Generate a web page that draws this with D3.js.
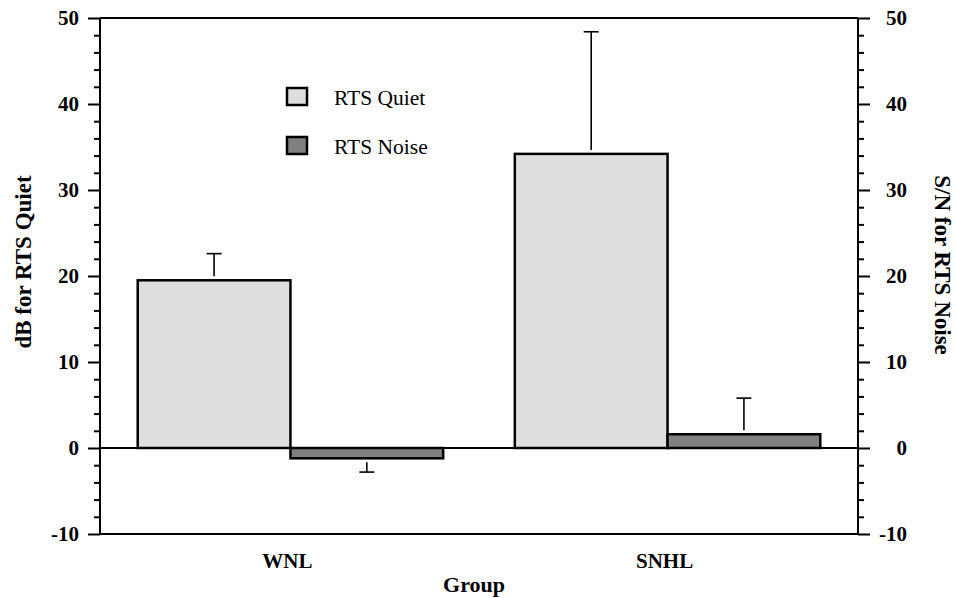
<!DOCTYPE html>
<html>
<head>
<meta charset="utf-8">
<script src="https://cdn.jsdelivr.net/npm/d3@7"></script>
<style>
body { margin: 0; background: #fff; }
text { font-family: "Liberation Serif", "Times New Roman", serif; }
</style>
</head>
<body>
<div class="chart"></div>
<script>
var groups = ["WNL", "SNHL"];
var series = ["RTS Quiet", "RTS Noise"];
var quietValues = [19.5, 34.2];
var quietErrors = [3.1, 14.2];
var noiseValues = [-1.2, 1.6];
var noiseErrors = [1.6, 4.2];
var yTicks = [-10, 0, 10, 20, 30, 40, 50];
var colors = ["#dedede", "#808080"];

var data = [];
groups.forEach(function(g, i){
	data.push({group: g, series: series[0], value: quietValues[i], err: quietErrors[i]});
	data.push({group: g, series: series[1], value: noiseValues[i], err: noiseErrors[i]});
});

var width = 956, height = 598;
var margin = {top: 18, right: 98, bottom: 64, left: 100};
var w = width - margin.left - margin.right;
var h = height - margin.top - margin.bottom;

var svg = d3.select(".chart").append("svg")
	.attr("width", width)
	.attr("height", height);

var g = svg.append("g").attr("transform", "translate(" + margin.left + "," + margin.top + ")");

var x = d3.scaleBand().domain(groups).range([0, w]).paddingInner(0.19).paddingOuter(0.1);
var xs = d3.scaleBand().domain(series).range([0, x.bandwidth()]);
var y = d3.scaleLinear().domain([-10, 50]).range([h, 0]);

// bars
g.selectAll("rect.bar").data(data).enter().append("rect")
	.attr("class", "bar")
	.attr("x", d => x(d.group) + xs(d.series))
	.attr("width", xs.bandwidth())
	.attr("y", d => y(Math.max(0, d.value)))
	.attr("height", d => Math.abs(y(d.value) - y(0)))
	.style("fill", d => colors[series.indexOf(d.series)])
	.style("stroke", "#000")
	.style("stroke-width", 2.5);

// error bars (one-sided)
var gap = 4;
var eb = g.selectAll("g.err").data(data).enter().append("g").attr("class", "err")
	.attr("transform", d => "translate(" + (x(d.group) + xs(d.series) + xs.bandwidth() / 2) + ",0)");
eb.append("line")
	.attr("y1", d => y(d.value) + (d.value >= 0 ? -gap : gap))
	.attr("y2", d => y(d.value >= 0 ? d.value + d.err : d.value - d.err))
	.style("stroke", "#000").style("stroke-width", 1.6);
eb.append("line")
	.attr("x1", -7.5).attr("x2", 7.5)
	.attr("y1", d => y(d.value >= 0 ? d.value + d.err : d.value - d.err))
	.attr("y2", d => y(d.value >= 0 ? d.value + d.err : d.value - d.err))
	.style("stroke", "#000").style("stroke-width", 1.6);

// zero line
g.append("line")
	.attr("x1", 0).attr("x2", w)
	.attr("y1", y(0)).attr("y2", y(0))
	.style("stroke", "#000").style("stroke-width", 2);

// frame top and bottom
g.append("line").attr("x1", 0).attr("x2", w).attr("y1", y(50)).attr("y2", y(50))
	.style("stroke", "#000").style("stroke-width", 2);
g.append("line").attr("x1", 0).attr("x2", w).attr("y1", y(-10)).attr("y2", y(-10))
	.style("stroke", "#000").style("stroke-width", 2);

// axes
var minor = d3.range(-10, 51, 2).filter(v => v % 10 != 0);
var fmt = d => String(d);

function styleAxis(sel) {
	sel.select(".domain").remove();
	sel.selectAll("line").style("stroke", "#000").style("stroke-width", 2);
	sel.selectAll("text")
		.style("font-size", "21px")
		.style("font-weight", "bold")
		.style("fill", "#000");
}

var yLeft = g.append("g").call(d3.axisLeft(y).tickValues(yTicks).tickSize(12).tickPadding(9).tickFormat(fmt));
styleAxis(yLeft);
var yLeftMinor = g.append("g").call(d3.axisLeft(y).tickValues(minor).tickSize(6).tickFormat(""));
styleAxis(yLeftMinor);
g.append("line").attr("x1", 0).attr("x2", 0).attr("y1", 0).attr("y2", h)
	.style("stroke", "#000").style("stroke-width", 2);

var yRight = g.append("g").attr("transform", "translate(" + w + ",0)")
	.call(d3.axisRight(y).tickValues(yTicks).tickSize(12).tickPadding(0).tickFormat(fmt));
styleAxis(yRight);
yRight.selectAll("text").attr("text-anchor", "end").attr("x", 49);
var yRightMinor = g.append("g").attr("transform", "translate(" + w + ",0)")
	.call(d3.axisRight(y).tickValues(minor).tickSize(6).tickFormat(""));
styleAxis(yRightMinor);
g.append("line").attr("x1", w).attr("x2", w).attr("y1", 0).attr("y2", h)
	.style("stroke", "#000").style("stroke-width", 2);

// x labels
g.selectAll("text.xlab").data(groups).enter().append("text")
	.attr("class", "xlab")
	.attr("x", d => x(d) + x.bandwidth() / 2 - 3)
	.attr("y", h + 34)
	.attr("text-anchor", "middle")
	.style("font-size", "21px").style("font-weight", "bold")
	.text(d => d);

g.append("text")
	.attr("x", w / 2 - 5).attr("y", h + 58)
	.attr("text-anchor", "middle")
	.style("font-size", "22px").style("font-weight", "bold")
	.text("Group");

svg.append("text")
	.attr("transform", "translate(31,262) rotate(-90)")
	.attr("text-anchor", "middle")
	.style("font-size", "23px").style("font-weight", "bold")
	.text("dB for RTS Quiet");

svg.append("text")
	.attr("transform", "translate(935,265) rotate(90)")
	.attr("text-anchor", "middle")
	.style("font-size", "23px").style("font-weight", "bold")
	.text("S/N for RTS Noise");

// legend
var lg = svg.append("g").attr("transform", "translate(287,88)");
var li = lg.selectAll("g").data(series).enter().append("g")
	.attr("transform", (d, i) => "translate(0," + (i * 49) + ")");
li.append("rect")
	.attr("width", 20).attr("height", 17)
	.style("fill", (d, i) => colors[i])
	.style("stroke", "#000").style("stroke-width", 2.5);
li.append("text")
	.attr("x", 47).attr("y", 17)
	.style("font-size", "21.5px")
	.text(d => d);
</script>
</body>
</html>
